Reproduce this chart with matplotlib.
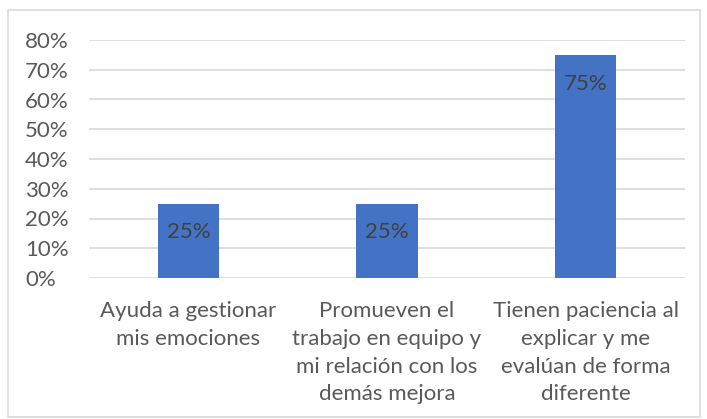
import matplotlib.pyplot as plt
from matplotlib.patches import Rectangle
from matplotlib.ticker import PercentFormatter

categorias = ['Ayuda a gestionar\nmis emociones',
              'Promueven el\ntrabajo en equipo y\nmi relación con los\ndemás mejora',
              'Tienen paciencia al\nexplicar y me\nevalúan de forma\ndiferente']
valores = [25, 25, 75]

plt.rcParams['font.family'] = ['Lato', 'DejaVu Sans']

W, H = 707, 419
fig = plt.figure(figsize=(W / 100, H / 100), dpi=100)
ax = fig.add_axes([89 / W, 1 - 278 / H, (685 - 89) / W, (278 - 40) / H])

# marco del gráfico
fig.patches.append(Rectangle((8 / W, 2 / H), 692 / W, 407 / H, transform=fig.transFigure,
                             fill=False, edgecolor='#d9d9d9', linewidth=1.2))

x = range(len(valores))
barras = ax.bar(x, valores, width=0.31, color='#4472C4', zorder=3)

for b, v in zip(barras, valores):
    ax.text(b.get_x() + b.get_width() / 2, v - 9.7, f'{v}%', ha='center', va='center',
            fontsize=16, color='#404040', zorder=4)

ax.set_xlim(-0.5, 2.5)
ax.set_ylim(0, 80)
ax.set_yticks(range(0, 81, 10))
ax.yaxis.set_major_formatter(PercentFormatter(decimals=0))
ax.set_xticks(list(x))
ax.set_xticklabels(categorias, linespacing=1.49)
ax.tick_params(axis='both', length=0, labelsize=16, labelcolor='#595959')
ax.tick_params(axis='x', pad=16.5)
ax.tick_params(axis='y', pad=46)
for lbl in ax.get_yticklabels():
    lbl.set_horizontalalignment('left')
ax.grid(axis='y', color='#d9d9d9', linewidth=1.2, zorder=0)
for s in ax.spines.values():
    s.set_visible(False)

fig.savefig('out.png', dpi=100)
